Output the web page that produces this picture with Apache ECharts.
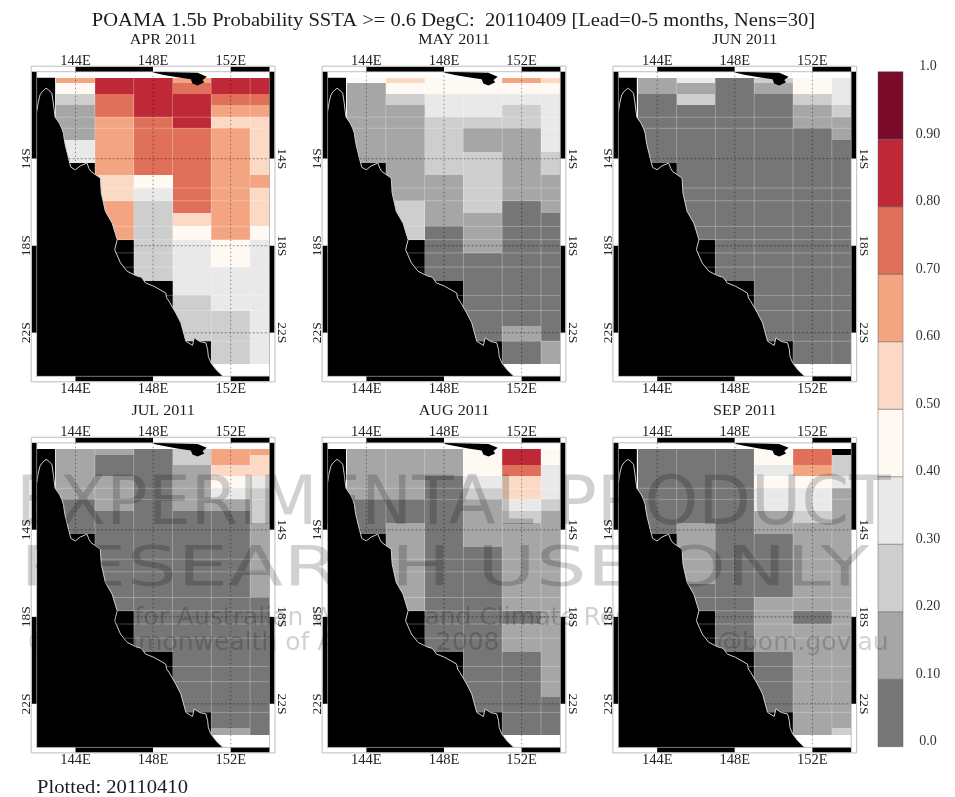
<!DOCTYPE html>
<html><head><meta charset="utf-8">
<script src="https://cdn.jsdelivr.net/npm/echarts@6/dist/echarts.min.js"></script>
<style>html,body{margin:0;padding:0;background:#fff}#c{width:955px;height:797px;filter:blur(.6px)}</style>
</head><body><div id="c"></div>
<script>
const X = -1; // land-masked cell, drawn black
const lonEdges = [143,145,147,149,151,153,154];
const latEdges = [-10.28,-10.54,-11.04,-11.54,-12.09,-12.60,-13.13,-13.67,-14.20,-14.77,-15.35,-15.93,-16.50,-17.11,-17.72,-18.33,-18.98,-19.63,-20.28,-20.98,-21.67,-22.39,-23.12,-23.43];
const colorLevels = [0,.1,.2,.3,.4,.5,.6,.7,.8,.9,1];
const colorbarLabels = ['0.0','0.10','0.20','0.30','0.40','0.50','0.60','0.70','0.80','0.90','1.0'];
const lonTicks = [144,148,152];
const latTicks = [-14,-18,-22];
const months = ['APR 2011','MAY 2011','JUN 2011','JUL 2011','AUG 2011','SEP 2011'];

const aprValues = [
[.65,.85,.85,.65,.85,.85],[.45,.85,.85,.75,.85,.85],[.25,.75,.85,.85,.75,.75],[.15,.75,.85,.85,.65,.65],
[.15,.65,.75,.85,.55,.55],[.15,.65,.75,.75,.65,.55],[.35,.65,.75,.75,.65,.55],[.35,.65,.75,.75,.65,.55],
[X,.65,.75,.75,.65,.55],[X,.55,.45,.75,.65,.65],[X,.55,.35,.75,.65,.55],[X,.65,.25,.75,.65,.55],
[X,.65,.25,.55,.65,.55],[X,.65,.25,.45,.65,.45],[X,X,.25,.35,.45,.35],[X,X,.25,.35,.45,.35],
[X,X,.25,.35,.35,.35],[X,X,X,.35,.35,.35],[X,X,X,.25,.35,.35],[X,X,X,.25,.25,.35],
[X,X,X,.25,.25,.35],[X,X,X,X,.25,.35],[X,X,X,X,.25,.35]];
const mayValues = [
[.45,.55,.45,.45,.65,.55],[.15,.45,.45,.45,.45,.45],[.15,.25,.35,.35,.35,.35],[.15,.15,.35,.35,.25,.35],
[.15,.15,.25,.25,.25,.35],[.15,.15,.25,.15,.15,.35],[.15,.15,.25,.15,.15,.35],[.15,.15,.25,.25,.15,.25],
[X,.15,.25,.25,.15,.25],[X,.15,.15,.25,.15,.15],[X,.15,.15,.25,.15,.15],[X,.25,.15,.25,.05,.15],
[X,.25,.15,.15,.05,.05],[X,.25,.05,.15,.05,.05],[X,X,.05,.15,.05,.05],[X,X,.05,.05,.05,.05],
[X,X,.05,.05,.05,.05],[X,X,X,.05,.05,.05],[X,X,X,.05,.05,.05],[X,X,X,.05,.05,.05],
[X,X,X,.05,.15,.05],[X,X,X,X,.05,.15],[X,X,X,X,.05,.15]];
const junValues = [
[.15,.35,.05,.25,.45,.35],[.15,.15,.05,.15,.45,.35],[.05,.25,.05,.05,.25,.35],[.05,.05,.05,.05,.15,.25],
[.05,.05,.05,.05,.15,.15],[.05,.05,.05,.05,.05,.15],[.05,.05,.05,.05,.05,.05],[.05,.05,.05,.05,.05,.05],
[X,.05,.05,.05,.05,.05],[X,.05,.05,.05,.05,.05],[X,.05,.05,.05,.05,.05],[X,.05,.05,.05,.05,.05],
[X,.05,.05,.05,.05,.05],[X,.05,.05,.05,.05,.05],[X,X,.05,.05,.05,.05],[X,X,.05,.05,.05,.05],
[X,X,.05,.05,.05,.05],[X,X,X,.05,.05,.05],[X,X,X,.05,.05,.05],[X,X,X,.05,.05,.05],
[X,X,X,.05,.05,.05],[X,X,X,X,.05,.05],[X,X,X,X,.05,.05]];
const julValues = [
[.15,.15,.05,.25,.65,.65],[.15,.05,.05,.25,.65,.55],[.15,.05,.05,.15,.55,.55],[.15,.15,.05,.15,.45,.35],
[.15,.15,.05,.15,.35,.25],[.05,.15,.05,.15,.15,.25],[.05,.05,.05,.05,.05,.25],[.05,.05,.05,.05,.05,.15],
[X,.05,.05,.05,.05,.15],[X,.05,.05,.05,.05,.15],[X,.05,.05,.05,.05,.15],[X,.05,.05,.05,.05,.15],
[X,.05,.05,.05,.05,.15],[X,.05,.05,.05,.05,.05],[X,X,.05,.05,.05,.05],[X,X,.05,.05,.05,.05],
[X,X,.05,.05,.05,.05],[X,X,X,.05,.05,.05],[X,X,X,.05,.05,.05],[X,X,X,.05,.05,.05],
[X,X,X,.05,.05,.05],[X,X,X,X,.05,.05],[X,X,X,X,.15,.05]];
const augValues = [
[.15,.15,.15,.45,.85,.45],[.15,.15,.15,.45,.85,.45],[.15,.15,.15,.45,.75,.35],[.15,.15,.05,.35,.55,.35],
[.15,.15,.05,.25,.55,.35],[.05,.05,.05,.15,.35,.25],[.05,.05,.05,.15,.25,.15],[.05,.15,.05,.15,.15,.15],
[X,.15,.05,.15,.15,.15],[X,.15,.05,.05,.15,.15],[X,.15,.05,.05,.15,.15],[X,.15,.05,.05,.15,.15],
[X,.15,.05,.05,.15,.15],[X,.15,.05,.05,.15,.15],[X,X,.05,.05,.05,.15],[X,X,.05,.05,.15,.15],
[X,X,.05,.05,.15,.15],[X,X,X,.05,.05,.15],[X,X,X,.05,.05,.15],[X,X,X,.05,.05,.15],
[X,X,X,.05,.05,.05],[X,X,X,X,.05,.05],[X,X,X,X,.05,.05]];
const sepValues = [
[.05,.05,.05,.45,.75,X],[.05,.05,.05,.45,.75,.25],[.05,.05,.05,.35,.65,.25],[.05,.05,.05,.45,.45,.35],
[.05,.05,.05,.35,.35,.15],[.05,.05,.05,.35,.35,.15],[.05,.05,.05,.15,.25,.15],[.05,.15,.05,.15,.15,.15],
[X,.15,.05,.05,.15,.15],[X,.15,.05,.05,.15,.15],[X,.15,.05,.05,.15,.15],[X,.15,.05,.05,.15,.15],
[X,.05,.05,.05,.15,.15],[X,.05,.05,.15,.15,.15],[X,X,.05,.15,.05,.15],[X,X,.05,.15,.15,.15],
[X,X,.05,.15,.15,.15],[X,X,X,.05,.15,.15],[X,X,X,.05,.15,.15],[X,X,X,.05,.15,.15],
[X,X,X,.05,.15,.15],[X,X,X,X,.15,.15],[X,X,X,X,.15,.25]];

// coastline, lon/lat
const coastNorth = [[142.00,-11.83],[142.08,-11.40],[142.17,-11.07],[142.30,-10.90],[142.48,-10.76],[142.62,-10.84],[142.78,-10.99],[142.85,-11.40],[142.90,-11.76],[142.95,-12.09]];
const coastEast = [[143.17,-12.37],[143.30,-12.62],[143.38,-12.83],[143.42,-13.10],[143.47,-13.36],[143.64,-13.98],[143.76,-14.39],[143.99,-14.51],[144.25,-14.33],[144.59,-14.20],[144.70,-14.45],[144.80,-14.59],[145.28,-14.89],[145.33,-15.58],[145.54,-16.42],[145.89,-16.96],[146.15,-17.72],[146.02,-18.18],[146.32,-18.79],[146.66,-19.17],[147.10,-19.37],[147.40,-19.45],[147.61,-19.71],[148.04,-19.86],[148.65,-20.17],[148.70,-20.40],[148.82,-20.55],[149.17,-21.09],[149.43,-21.54],[149.69,-22.39],[150.03,-22.58],[150.12,-22.23],[150.40,-22.40],[150.72,-22.46],[150.81,-22.77],[150.85,-23.10],[150.98,-23.38],[151.24,-23.69],[151.60,-24.00]];
const landCorners = [[142.00,-24.00],[142.00,-10.28],[142.95,-10.28],[142.95,-12.09]];
const newGuinea = [[148.04,-10],[150.29,-10.05],[150.77,-10.23],[150.55,-10.38],[150.64,-10.49],[150.29,-10.63],[150.03,-10.54],[149.94,-10.35],[149.25,-10.26],[148.56,-10.15],[148.04,-10.05]];

const seamLatIndex = [4,5,10,11,13,14,15,16,18,19,21];
const seamLons = [145,147,149,151,153];
const frameLons = [[142,144,'#fff'],[144,148,'#000'],[148,152,'#fff'],[152,154,'#000']];
const frameLats = [[-10,-14,'#000'],[-14,-18,'#fff'],[-18,-22,'#000'],[-22,-24,'#fff']];

const palette = ['#767676','#a6a6a6','#cecece','#e9e9e9','#fff9f3','#fcd9c4','#f3a582','#e0705a','#bf2937','#7a0b2b'];
const allValues = [aprValues,mayValues,junValues,julValues,augValues,sepValues];
const plotLefts = [36.7,327.6,618.4], plotTops = [71.7,442.8];
const PW = 232.8, PH = 304.6, BAR = 5, SERIF = '"Liberation Serif"';

const fillOf = v => v === X ? '#000' : palette[Math.min(9, Math.floor(v * 10))];
const grids = [], xAxes = [], yAxes = [], series = [], texts = [];
const stretched = (text, x, y, size, sx, align) => ({type:'text', z:90, silent:true, x, scaleX:sx,
  style:{text, x:0, y, textAlign:align, textVerticalAlign:'middle', font:size+'px '+SERIF, fill:'#1c1c1c'}});

months.forEach((m, i) => {
  const left = plotLefts[i % 3], top = plotTops[i < 3 ? 0 : 1];
  grids.push({left, top, width: PW, height: PH});
  const xBase = {type:'value', gridIndex:i, min:142, max:154, axisLine:{show:false}, axisTick:{show:false}, splitLine:{show:false}};
  const xLab = {customValues:lonTicks, formatter:v=>v+'E', fontFamily:SERIF, fontSize:14.5, color:'#222'};
  const yBase = {type:'value', gridIndex:i, min:-24, max:-10, axisLine:{show:false}, axisTick:{show:false}, splitLine:{show:false}};
  const yLab = {customValues:latTicks, formatter:v=>Math.abs(v)+'S', fontFamily:SERIF, fontSize:13.5, color:'#222'};
  const xi = xAxes.length, yi = yAxes.length;
  xAxes.push({...xBase, position:'bottom', axisLabel:{...xLab, margin:5.5}}, {...xBase, position:'top', axisLabel:{...xLab, margin:3}});
  yAxes.push({...yBase, position:'left', axisLabel:{...yLab, rotate:90, margin:3}}, {...yBase, position:'right', axisLabel:{...yLab, rotate:-90, margin:5}});
  texts.push(stretched(m, left + PW/2 + 10, top - 31.7, 14, 1.15, 'center'));

  const on = {xAxisIndex:xi, yAxisIndex:yi, silent:true};
  const cells = [];
  allValues[i].forEach((row, r) => row.forEach((v, c) => {
    cells.push([lonEdges[c], lonEdges[c+1], latEdges[r], latEdges[r+1], v]);
  }));
  series.push({...on, z:2, type:'custom', data:cells, renderItem:(p, api) => {
    const a = api.coord([api.value(0), api.value(2)]), b = api.coord([api.value(1), api.value(3)]);
    const x = Math.round(a[0]), y = Math.round(a[1]);
    return {type:'rect', shape:{x, y, width:Math.round(b[0])-x, height:Math.round(b[1])-y}, style:{fill:fillOf(api.value(4))}};
  }});
  // thin resampling seams between some cells
  seamLatIndex.forEach(k => series.push({...on, z:3, type:'line', symbol:'none', data:[[143,latEdges[k]],[154,latEdges[k]]], lineStyle:{color:'rgba(255,255,255,.28)', width:1}}));
  seamLons.forEach(l => series.push({...on, z:3, type:'line', symbol:'none', data:[[l,latEdges[0]],[l,latEdges[23]]], lineStyle:{color:'rgba(255,255,255,.28)', width:1}}));
  // land
  const landPoly = landCorners.concat(coastEast);
  const poly = pts => ({...on, z:4, type:'custom', data:[0], renderItem:(p, api) => ({type:'polygon', shape:{points:pts.map(q=>api.coord(q))}, style:{fill:'#000'}})});
  series.push(poly(landPoly), poly(newGuinea));
  series.push({...on, z:5, type:'line', symbol:'none', data:coastNorth.concat(coastEast), lineStyle:{color:'#cfcfcf', width:1}});
  // graticule
  lonTicks.forEach(l => series.push({...on, z:6, type:'line', symbol:'none', data:[[l,-10],[l,-24]], lineStyle:{color:'rgba(0,0,0,.42)', width:1, type:[1.5,2.5]}}));
  latTicks.forEach(l => series.push({...on, z:6, type:'line', symbol:'none', data:[[142,l],[154,l]], lineStyle:{color:'rgba(0,0,0,.42)', width:1, type:[2,2]}}));
  // map frame
  const seg = [];
  frameLons.forEach(f => { seg.push([f[0],-10,f[1],-10,f[2],0]); seg.push([f[0],-24,f[1],-24,f[2],1]); });
  frameLats.forEach(f => { seg.push([142,f[0],142,f[1],f[2],2]); seg.push([154,f[0],154,f[1],f[2],3]); });
  series.push({...on, z:7, type:'custom', data:seg, dimensions:['a','b','c','d',{name:'col',type:'ordinal'},'side'], renderItem:(p, api) => {
    const d = seg[p.dataIndex];
    const a = api.coord([d[0],d[1]]), b = api.coord([d[2],d[3]]);
    const s = d[5];
    const shape = s === 0 ? {x:a[0], y:a[1]-BAR, width:b[0]-a[0], height:BAR}
      : s === 1 ? {x:a[0], y:a[1], width:b[0]-a[0], height:BAR}
      : s === 2 ? {x:a[0]-BAR, y:a[1], width:BAR, height:b[1]-a[1]}
      : {x:a[0], y:a[1], width:BAR, height:b[1]-a[1]};
    return {type:'rect', shape, style:{fill:d[4]}};
  }});
  series.push({...on, z:8, type:'custom', data:[0], renderItem:(p, api) => {
    const a = api.coord([142,-10]), b = api.coord([154,-24]);
    return {type:'group', children:[
      {type:'rect', shape:{x:a[0]-BAR-.5, y:a[1]-BAR-.5, width:b[0]-a[0]+2*BAR+1, height:b[1]-a[1]+2*BAR+1}, style:{fill:'none', stroke:'#bdbdbd', lineWidth:1}},
      {type:'rect', shape:{x:a[0], y:a[1], width:b[0]-a[0], height:b[1]-a[1]}, style:{fill:'none', stroke:'rgba(150,150,150,.6)', lineWidth:1}}
    ]};
  }});
});

// colorbar
const cbi = months.length;
grids.push({left:878, top:71.7, width:25, height:675});
xAxes.push({type:'value', gridIndex:cbi, min:0, max:1, show:false});
yAxes.push({type:'value', gridIndex:cbi, min:0, max:1, interval:.1, position:'right', axisLine:{show:false}, axisTick:{show:false}, splitLine:{show:false},
  axisLabel:{fontFamily:SERIF, fontSize:14, lineHeight:10, color:'#333', margin:25, align:'center', verticalAlign:'bottom', formatter:v=>colorbarLabels[Math.round(v*10)]}});
series.push({type:'custom', xAxisIndex:xAxes.length-1, yAxisIndex:yAxes.length-1, silent:true,
  data:palette.map((c,i)=>[colorLevels[i], colorLevels[i+1], i]),
  renderItem:(p, api) => {
    const a = api.coord([0, api.value(1)]), b = api.coord([1, api.value(0)]);
    return {type:'rect', shape:{x:a[0], y:a[1], width:b[0]-a[0], height:b[1]-a[1]}, style:{fill:palette[api.value(2)], stroke:'rgba(90,90,90,.45)', lineWidth:1}};
  }});

texts.push(stretched('POAMA 1.5b Probability SSTA >= 0.6 DegC:  20110409 [Lead=0-5 months, Nens=30]', 453.5, 21, 18, 1.14, 'center'));
texts.push(stretched('Plotted: 20110410', 37, 788, 18, 1.145, 'left'));

const wm = 'rgba(0,0,0,.18)', SANS = '"DejaVu Sans"';
const watermark = [
  {type:'text', z:100, silent:true, style:{text:'EXPERIMENTAL PRODUCT', x:16, y:541, textVerticalAlign:'bottom', font:'68.5px '+SANS, fill:wm}},
  {type:'text', z:100, silent:true, x:20, scaleX:1.46, style:{text:'RESEARCH USE ONLY', x:0, y:598, textVerticalAlign:'bottom', font:'55px '+SANS, fill:wm}},
  {type:'text', z:100, silent:true, style:{text:'Centre for Australian Weather and Climate Research', x:43, y:631, textVerticalAlign:'bottom', font:'25px '+SANS, fill:wm}},
  {type:'text', z:100, silent:true, style:{text:'\u00A9', x:26, y:656, textVerticalAlign:'bottom', font:'25px '+SANS, fill:wm}},
  {type:'text', z:100, silent:true, style:{text:'Commonwealth of Australia 2008', x:81, y:656, textVerticalAlign:'bottom', font:'25px '+SANS, fill:wm}},
  {type:'text', z:100, silent:true, style:{text:'@bom.gov.au', x:717, y:656, textVerticalAlign:'bottom', font:'25px '+SANS, fill:wm}}
];

const chart = echarts.init(document.getElementById('c'), null, {renderer:'canvas'});
chart.setOption({animation:false, backgroundColor:'#fff', grid:grids, xAxis:xAxes, yAxis:yAxes, series, graphic:{elements:texts.concat(watermark)}});
</script></body></html>
